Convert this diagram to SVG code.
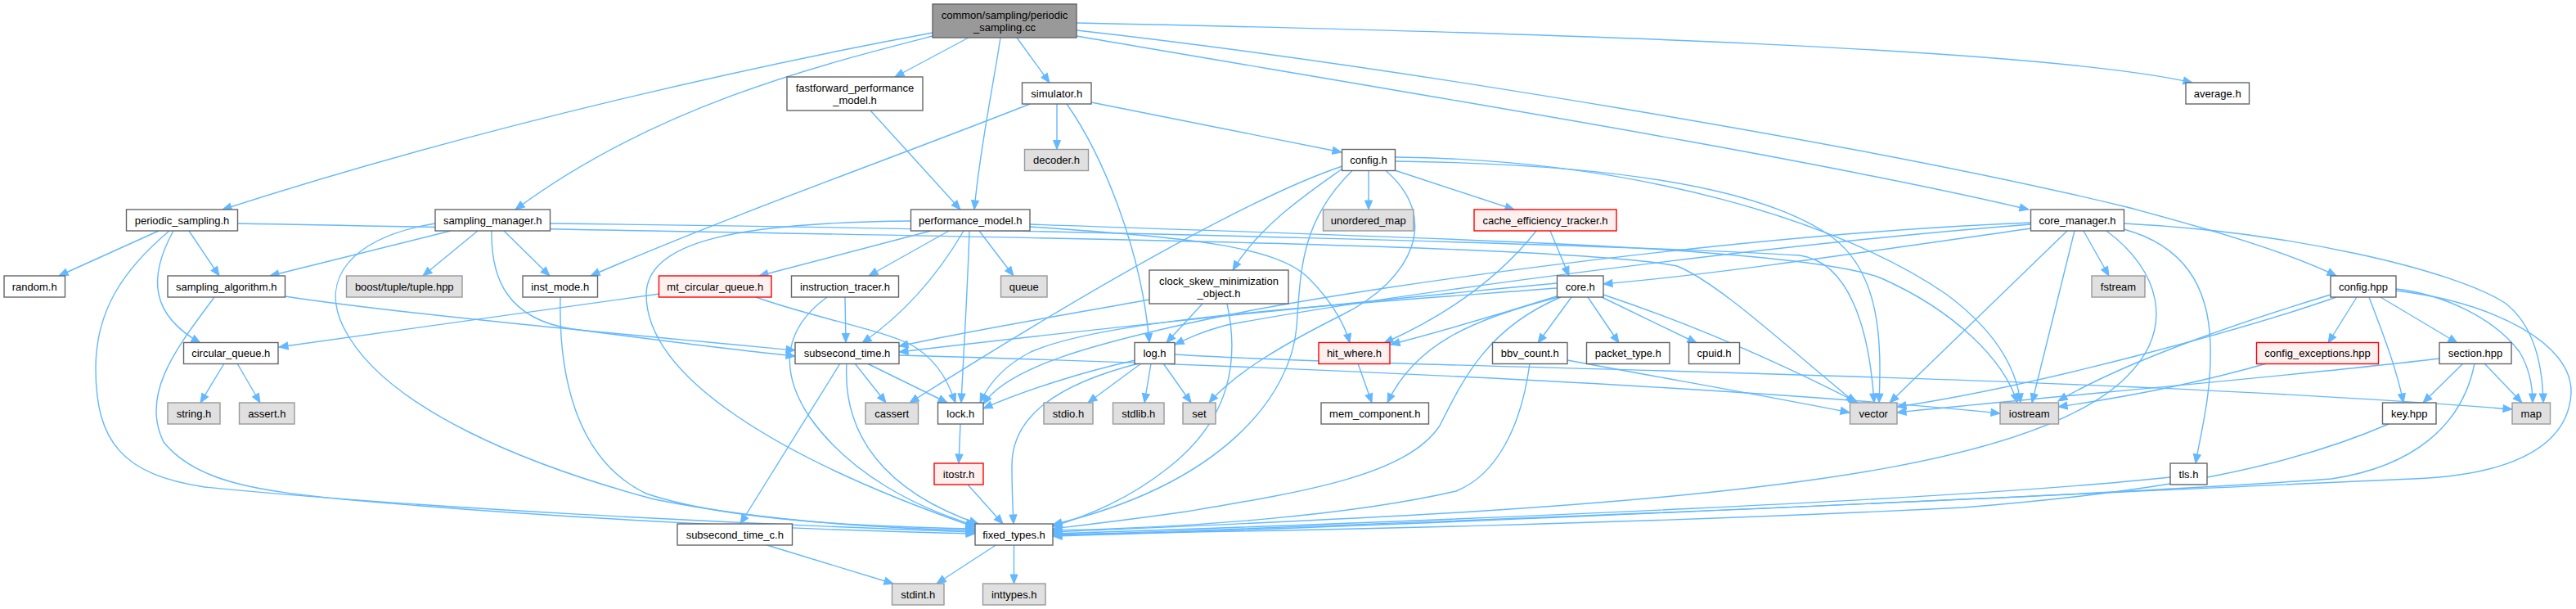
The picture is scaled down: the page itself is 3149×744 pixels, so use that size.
<svg xmlns="http://www.w3.org/2000/svg" width="3149" height="744" viewBox="0 0 3149 744">
<style>
rect{stroke-width:1.4}
.n rect{fill:#ffffff;stroke:#666666}
.g rect{fill:#e0e0e0;stroke:#999999}
.r rect{fill:#fff0f0;stroke:#ff0000}
.root rect{fill:#999999;stroke:#666666}
text{font-family:"Liberation Sans",Arial,Helvetica,sans-serif;font-size:13px;text-anchor:middle;fill:#000000}
.e{fill:none;stroke:#63b8ff;stroke-width:1.4;marker-end:url(#a)}
</style>
<defs>
<marker id="a" markerUnits="userSpaceOnUse" markerWidth="11" markerHeight="9" refX="11" refY="4.5" orient="auto" viewBox="0 0 11 9" overflow="visible"><path d="M0,0 L11,4.5 L0,9 z" fill="#63b8ff" stroke="#63b8ff" stroke-width="1"/></marker>
</defs>
<rect x="0" y="0" width="3149" height="744" fill="#ffffff" stroke="none"/>
<g id="edges">
<path class="e" d="M1140,40 C950,75 600,150 272,256"/>
<path class="e" d="M1140,44 C1000,80 800,130 630,256"/>
<path class="e" d="M1184,46 L1094,94"/>
<path class="e" d="M1223,46 C1215,100 1198,180 1191,256"/>
<path class="e" d="M1243,46 L1283,101"/>
<path class="e" d="M1316,28 C1900,40 2500,60 2680,101"/>
<path class="e" d="M1316,44 C1700,110 2200,190 2480,256"/>
<path class="e" d="M1316,37 C1700,80 2300,180 2600,253 C2720,285 2800,310 2856,337"/>
<path class="e" d="M1064,135 L1174,256"/>
<path class="e" d="M1292,127 L1292,182.5"/>
<path class="e" d="M1334,125 L1640,186"/>
<path class="e" d="M1304,127 C1345,185 1395,300 1405,418.5"/>
<path class="e" d="M1259,127 C1100,190 900,260 722,337"/>
<path class="e" d="M1673,208.5 L1673,256"/>
<path class="e" d="M1705,208 L1851,256"/>
<path class="e" d="M1641,206 C1600,235 1540,275 1507,330"/>
<path class="e" d="M1641,203 C1560,230 1400,310 1112,492"/>
<path class="e" d="M1653,208.5 C1590,270 1590,330 1585,400 C1578,480 1500,590 1287,641"/>
<path class="e" d="M1694,208.5 C1760,265 1730,340 1640,385 C1570,420 1510,455 1478,492"/>
<path class="e" d="M1706,197 C1950,200 2150,225 2240,290 C2300,335 2300,420 2297,492"/>
<path class="e" d="M1706,192 C2000,195 2250,270 2380,360 C2440,405 2465,450 2470,492"/>
<path class="e" d="M1895,282 L1918,337"/>
<path class="e" d="M1878,282 C1840,330 1780,380 1692,419"/>
<path class="e" d="M1138,282 L928,337"/>
<path class="e" d="M1160,282 L1062,337"/>
<path class="e" d="M1197,282 L1239,337"/>
<path class="e" d="M1178,282 C1150,330 1110,380 1054,419"/>
<path class="e" d="M1185,282 C1183,350 1178,430 1175,492"/>
<path class="e" d="M1113,270 C900,272 790,295 790,360 C790,460 950,560 1192,644"/>
<path class="e" d="M1259,277 C1450,290 1560,300 1600,340 C1630,370 1645,400 1650,419"/>
<path class="e" d="M1259,274 C1700,290 2200,300 2300,340 C2390,380 2450,440 2466,492"/>
<path class="e" d="M194,282 L72,337"/>
<path class="e" d="M231,282 L268,337"/>
<path class="e" d="M212,282 C180,340 185,385 245,419"/>
<path class="e" d="M207,282 C150,330 117,380 117,450 C117,540 150,580 250,595 C500,620 900,640 1192,650"/>
<path class="e" d="M290,273 C1000,287 1900,295 2050,325 C2100,345 2180,420 2268,492"/>
<path class="e" d="M672,273 C1300,280 2000,300 2200,312 C2260,320 2285,400 2291,492"/>
<path class="e" d="M551,282 L330,337"/>
<path class="e" d="M584,282 L517,337"/>
<path class="e" d="M616,282 L672,337"/>
<path class="e" d="M601,282 C600,340 620,390 700,402 C800,415 900,428 972,435"/>
<path class="e" d="M532,273 C430,290 390,340 420,400 C470,500 650,570 800,610 C950,640 1100,646 1192,648"/>
<path class="e" d="M348,362 C500,385 800,412 972,428"/>
<path class="e" d="M262,363 C220,420 170,480 200,540 C240,590 320,600 420,610 C700,635 1000,648 1192,652"/>
<path class="e" d="M685,363 C683,450 700,560 790,603 C900,640 1100,644 1192,646"/>
<path class="e" d="M806,359 L341,424"/>
<path class="e" d="M924,363 C1000,390 1090,405 1120,425 C1150,445 1160,470 1168,492"/>
<path class="e" d="M1033,363 L1034,418.5"/>
<path class="e" d="M1011,363 C960,400 950,450 990,510 C1040,580 1120,620 1192,642"/>
<path class="e" d="M1405,366 C1300,385 1180,405 1099,423"/>
<path class="e" d="M1470,371 L1426,418.5"/>
<path class="e" d="M1500,371 C1515,440 1505,510 1430,570 C1380,610 1330,630 1287,643"/>
<path class="e" d="M1903,362 C1830,385 1760,405 1700,421"/>
<path class="e" d="M1905,363 C1800,390 1730,420 1696,492"/>
<path class="e" d="M1908,363 C1820,400 1790,460 1760,520 C1720,580 1600,600 1450,625 C1380,635 1320,642 1287,646"/>
<path class="e" d="M1921,363 L1880,419"/>
<path class="e" d="M1941,363 L1979,419"/>
<path class="e" d="M1958,363 L2074,419"/>
<path class="e" d="M1960,360 C2050,390 2150,430 2271,492"/>
<path class="e" d="M1903,346 C1700,365 1350,400 1099,430"/>
<path class="e" d="M1903,352 C1600,375 1350,390 1260,430 C1225,448 1208,470 1198,492"/>
<path class="e" d="M2483,279 C2300,305 2100,335 1960,347"/>
<path class="e" d="M2483,272 C2150,285 1700,345 1500,385 C1330,420 1230,450 1202,494"/>
<path class="e" d="M2483,274 C2150,300 1700,360 1500,397 C1470,405 1455,412 1436,421"/>
<path class="e" d="M2527,282 L2310,492"/>
<path class="e" d="M2536,282 L2484,492"/>
<path class="e" d="M2547,282 L2578,337"/>
<path class="e" d="M2575,282 C2640,330 2660,400 2600,460 C2500,560 2200,600 1800,625 C1600,637 1400,645 1287,650"/>
<path class="e" d="M2596,273 C2800,283 3000,330 3062,370 C3095,395 3108,440 3109,492"/>
<path class="e" d="M2596,280 C2670,300 2700,350 2702,420 C2704,480 2690,530 2684,566"/>
<path class="e" d="M1388,440 C1320,455 1250,478 1202,499"/>
<path class="e" d="M1392,444 C1290,470 1236,510 1237,570 C1237,600 1238,620 1239,640"/>
<path class="e" d="M1395,444 L1330,492"/>
<path class="e" d="M1407,444 L1399,492"/>
<path class="e" d="M1422,444 L1456,492"/>
<path class="e" d="M1436,433 C1700,450 2500,455 3071,500"/>
<path class="e" d="M1045,444 L1083,492"/>
<path class="e" d="M1060,444 L1158,492"/>
<path class="e" d="M1027,444 L905,640"/>
<path class="e" d="M1035,444 C1030,530 1080,600 1196,640"/>
<path class="e" d="M1099,434 C1500,445 2100,470 2445,505"/>
<path class="e" d="M1174,518 L1172,566"/>
<path class="e" d="M1183,592 L1226,640"/>
<path class="e" d="M936,665.5 L1092,713"/>
<path class="e" d="M1218,665.5 L1145,713"/>
<path class="e" d="M1239.5,665.5 L1239.5,713"/>
<path class="e" d="M1660,444 L1677,492"/>
<path class="e" d="M1916,440 C2050,465 2150,482 2261,504"/>
<path class="e" d="M1870,444 C1860,520 1830,580 1780,600 C1650,630 1450,645 1287,648"/>
<path class="e" d="M2881,363 L2846,419"/>
<path class="e" d="M2896,363 C2910,400 2930,450 2938,492"/>
<path class="e" d="M2910,363 L3004,419"/>
<path class="e" d="M2849,360 C2750,390 2600,440 2516,490"/>
<path class="e" d="M2856,363 C2750,400 2500,470 2319,497"/>
<path class="e" d="M2929,353 C2990,360 3050,390 3080,430 C3092,450 3096,470 3096,492"/>
<path class="e" d="M2929,355 C3050,370 3145,420 3143,480 C3140,540 3080,580 2950,585 C2600,600 1800,640 1287,655"/>
<path class="e" d="M3011,444 L2962,492"/>
<path class="e" d="M3037,444 L3083,492"/>
<path class="e" d="M2982,438 C2800,460 2500,485 2319,504"/>
<path class="e" d="M3025,444 C3010,520 2950,570 2850,585 C2500,610 1700,640 1287,654"/>
<path class="e" d="M2920,518 C2800,570 2650,600 2400,620 C2000,640 1600,648 1287,653"/>
<path class="e" d="M2653,583 C2400,610 1800,635 1287,652"/>
<path class="e" d="M2771,444 C2680,470 2600,485 2516,497"/>
<path class="e" d="M274,444 L245,492"/>
<path class="e" d="M290,444 L318,492"/>
</g>
<g id="node-root" class="root"><rect x="1140" y="5" width="176" height="41"/><text x="1228" y="23">common/sampling/periodic</text><text x="1228" y="38">_sampling.cc</text></g>
<g id="node-ffpm" class="n"><rect x="962" y="94" width="166" height="41"/><text x="1045" y="112">fastforward_performance</text><text x="1045" y="127">_model.h</text></g>
<g id="node-simulator" class="n"><rect x="1249.5" y="101" width="84.5" height="26"/><text x="1291.75" y="118.5">simulator.h</text></g>
<g id="node-average" class="n"><rect x="2672" y="101" width="77.5" height="26"/><text x="2710.75" y="118.5">average.h</text></g>
<g id="node-decoder" class="g"><rect x="1252.5" y="182.5" width="78" height="26"/><text x="1291.5" y="200">decoder.h</text></g>
<g id="node-config-h" class="n"><rect x="1640.5" y="182.5" width="65" height="26"/><text x="1673" y="200">config.h</text></g>
<g id="node-periodic-sampling-h" class="n"><rect x="154.5" y="256" width="136" height="26"/><text x="222.5" y="273.5">periodic_sampling.h</text></g>
<g id="node-sampling-manager" class="n"><rect x="532" y="256" width="140.5" height="26"/><text x="602.25" y="273.5">sampling_manager.h</text></g>
<g id="node-performance-model" class="n"><rect x="1113.5" y="256" width="145.5" height="26"/><text x="1186.25" y="273.5">performance_model.h</text></g>
<g id="node-unordered-map" class="g"><rect x="1617.5" y="256" width="110.5" height="26"/><text x="1672.75" y="273.5">unordered_map</text></g>
<g id="node-cache-eff" class="r"><rect x="1802" y="256" width="174" height="26"/><text x="1889" y="273.5">cache_efficiency_tracker.h</text></g>
<g id="node-core-manager" class="n"><rect x="2482.5" y="256" width="114" height="26"/><text x="2539.5" y="273.5">core_manager.h</text></g>
<g id="node-random" class="n"><rect x="5" y="337" width="74.5" height="26"/><text x="42.25" y="354.5">random.h</text></g>
<g id="node-sampling-algorithm" class="n"><rect x="205" y="337" width="143.5" height="26"/><text x="276.75" y="354.5">sampling_algorithm.h</text></g>
<g id="node-boost-tuple" class="g"><rect x="423.5" y="337" width="141.5" height="26"/><text x="494.25" y="354.5">boost/tuple/tuple.hpp</text></g>
<g id="node-inst-mode" class="n"><rect x="639" y="337" width="91.5" height="26"/><text x="684.75" y="354.5">inst_mode.h</text></g>
<g id="node-mt-circular-queue" class="r"><rect x="805.5" y="337" width="137.5" height="26"/><text x="874.25" y="354.5">mt_circular_queue.h</text></g>
<g id="node-instruction-tracer" class="n"><rect x="967.5" y="337" width="131" height="26"/><text x="1033" y="354.5">instruction_tracer.h</text></g>
<g id="node-queue" class="g"><rect x="1223.5" y="337" width="56.5" height="26"/><text x="1251.75" y="354.5">queue</text></g>
<g id="node-clock-skew" class="n"><rect x="1405" y="330" width="170" height="41"/><text x="1490" y="348">clock_skew_minimization</text><text x="1490" y="363">_object.h</text></g>
<g id="node-core" class="n"><rect x="1903.5" y="337" width="56.5" height="26"/><text x="1931.75" y="354.5">core.h</text></g>
<g id="node-fstream" class="g"><rect x="2557" y="337" width="65" height="26"/><text x="2589.5" y="354.5">fstream</text></g>
<g id="node-config-hpp" class="n"><rect x="2849" y="337" width="80" height="26"/><text x="2889" y="354.5">config.hpp</text></g>
<g id="node-circular-queue" class="n"><rect x="224.5" y="418.5" width="115.5" height="26"/><text x="282.25" y="436">circular_queue.h</text></g>
<g id="node-subsecond-time" class="n"><rect x="972" y="418.5" width="127" height="26"/><text x="1035.5" y="436">subsecond_time.h</text></g>
<g id="node-log" class="n"><rect x="1387" y="418.5" width="49" height="26"/><text x="1411.5" y="436">log.h</text></g>
<g id="node-hit-where" class="r"><rect x="1612" y="418.5" width="87" height="26"/><text x="1655.5" y="436">hit_where.h</text></g>
<g id="node-bbv-count" class="n"><rect x="1824.5" y="418.5" width="91.5" height="26"/><text x="1870.25" y="436">bbv_count.h</text></g>
<g id="node-packet-type" class="n"><rect x="1939.5" y="418.5" width="101.5" height="26"/><text x="1990.25" y="436">packet_type.h</text></g>
<g id="node-cpuid" class="n"><rect x="2064.5" y="418.5" width="62" height="26"/><text x="2095.5" y="436">cpuid.h</text></g>
<g id="node-config-exceptions" class="r"><rect x="2758.5" y="418.5" width="149" height="26"/><text x="2833" y="436">config_exceptions.hpp</text></g>
<g id="node-section" class="n"><rect x="2982" y="418.5" width="88" height="26"/><text x="3026" y="436">section.hpp</text></g>
<g id="node-string" class="g"><rect x="205" y="492" width="64" height="26"/><text x="237" y="509.5">string.h</text></g>
<g id="node-assert" class="g"><rect x="292.5" y="492" width="67.5" height="26"/><text x="326.25" y="509.5">assert.h</text></g>
<g id="node-cassert" class="g"><rect x="1058" y="492" width="64.5" height="26"/><text x="1090.25" y="509.5">cassert</text></g>
<g id="node-lock" class="n"><rect x="1146.5" y="492" width="55.5" height="26"/><text x="1174.25" y="509.5">lock.h</text></g>
<g id="node-stdio" class="g"><rect x="1276" y="492" width="60" height="26"/><text x="1306" y="509.5">stdio.h</text></g>
<g id="node-stdlib" class="g"><rect x="1360.5" y="492" width="62.5" height="26"/><text x="1391.75" y="509.5">stdlib.h</text></g>
<g id="node-set" class="g"><rect x="1446" y="492" width="40" height="26"/><text x="1466" y="509.5">set</text></g>
<g id="node-mem-component" class="n"><rect x="1615" y="492" width="131.5" height="26"/><text x="1680.75" y="509.5">mem_component.h</text></g>
<g id="node-vector" class="g"><rect x="2261.5" y="492" width="57.5" height="26"/><text x="2290.25" y="509.5">vector</text></g>
<g id="node-iostream" class="g"><rect x="2445" y="492" width="71.5" height="26"/><text x="2480.75" y="509.5">iostream</text></g>
<g id="node-key" class="n"><rect x="2912.5" y="492" width="65.5" height="26"/><text x="2945.25" y="509.5">key.hpp</text></g>
<g id="node-map" class="g"><rect x="3071" y="492" width="46.5" height="26"/><text x="3094.25" y="509.5">map</text></g>
<g id="node-itostr" class="r"><rect x="1142" y="566" width="60" height="26"/><text x="1172" y="583.5">itostr.h</text></g>
<g id="node-tls" class="n"><rect x="2653" y="566" width="45" height="26"/><text x="2675.5" y="583.5">tls.h</text></g>
<g id="node-subsecond-time-c" class="n"><rect x="828" y="640" width="140.5" height="26"/><text x="898.25" y="657.5">subsecond_time_c.h</text></g>
<g id="node-fixed-types" class="n"><rect x="1192" y="640" width="95" height="26"/><text x="1239.5" y="657.5">fixed_types.h</text></g>
<g id="node-stdint" class="g"><rect x="1090.5" y="713" width="63.5" height="26"/><text x="1122.25" y="730.5">stdint.h</text></g>
<g id="node-inttypes" class="g"><rect x="1201.5" y="713" width="76.5" height="26"/><text x="1239.75" y="730.5">inttypes.h</text></g>
</svg>
